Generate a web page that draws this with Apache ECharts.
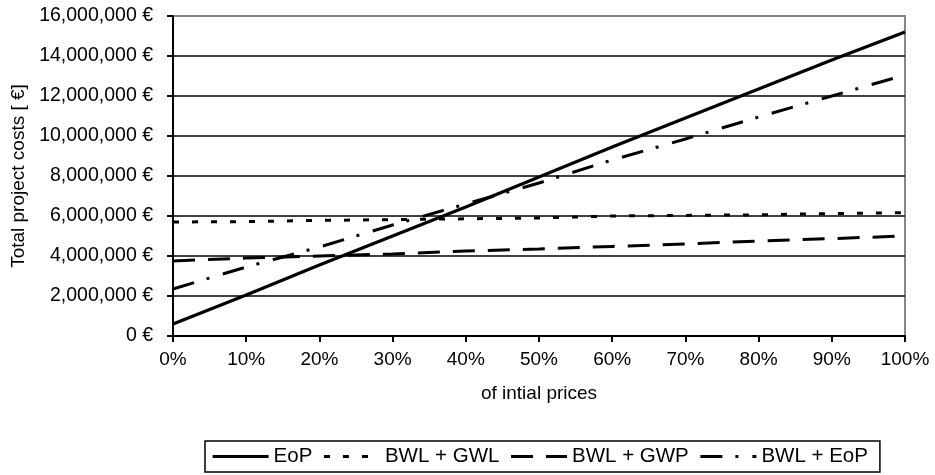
<!DOCTYPE html>
<html>
<head>
<meta charset="utf-8">
<script src="https://cdn.jsdelivr.net/npm/echarts@6/dist/echarts.min.js"></script>
<style>html,body{margin:0;padding:0;background:#fff}#c{width:935px;height:475px}</style>
</head>
<body>
<div id="c"></div>
<script>
var xPercent = [0, 10, 20, 30, 40, 50, 60, 70, 80, 90, 100];
var seriesNames = ['EoP', 'BWL + GWL', 'BWL + GWP', 'BWL + EoP'];
var eop  = [600000, 2050000, 3550000, 5000000, 6450000, 7950000, 9450000, 10900000, 12350000, 13800000, 15200000];
var gwl  = [5700000, 5720000, 5780000, 5820000, 5860000, 5900000, 6000000, 6030000, 6060000, 6120000, 6170000];
var gwp  = [3750000, 3900000, 4000000, 4100000, 4250000, 4350000, 4480000, 4600000, 4750000, 4870000, 5000000];
var beop = [2350000, 3450000, 4450000, 5550000, 6600000, 7650000, 8800000, 9850000, 10950000, 12000000, 13050000];
var yTicks = [0, 2000000, 4000000, 6000000, 8000000, 10000000, 12000000, 14000000, 16000000];

function pairs(v){ return xPercent.map(function(x,i){ return [x, v[i]]; }); }
var font = 'Liberation Sans, Arial, sans-serif';
var chart = echarts.init(document.getElementById('c'), null, {renderer:'canvas'});
var styles = [
  {type:'solid', width:3.2},
  {type:[6,13], width:3},
  {type:[22,13], width:3},
  {type:[22,13,3,14], width:3}
];
var data = [eop, gwl, gwp, beop];
chart.setOption({
  animation:false,
  backgroundColor:'#fff',
  grid:{left:173, right:30, top:16, bottom:139, show:true, borderColor:'#888', borderWidth:2, backgroundColor:'transparent'},
  xAxis:{
    type:'value', min:0, max:100, interval:10,
    name:'of intial prices', nameLocation:'middle', nameGap:48,
    nameTextStyle:{color:'#000', fontSize:19, fontFamily:font},
    axisLine:{show:true, lineStyle:{color:'#000', width:2}},
    axisTick:{show:true, inside:false, length:6, lineStyle:{color:'#000', width:2}},
    axisLabel:{color:'#000', fontSize:19, fontFamily:font, margin:14, formatter:'{value}%'},
    splitLine:{show:false}
  },
  yAxis:{
    type:'value', min:yTicks[0], max:yTicks[yTicks.length-1], interval:2000000,
    name:'Total project costs [ €]', nameLocation:'middle', nameGap:140, nameRotate:90,
    nameTextStyle:{color:'#000', fontSize:19, fontFamily:font},
    axisLine:{show:true, lineStyle:{color:'#000', width:2}},
    axisTick:{show:true, inside:false, length:6, lineStyle:{color:'#000', width:2}},
    axisLabel:{color:'#000', fontSize:19.5, fontFamily:font, margin:20,
      formatter:function(v){ return v.toLocaleString('en-US') + ' €'; }},
    splitLine:{show:true, showMaxLine:false, showMinLine:false, lineStyle:{color:'#000', width:1.5}}
  },
  legend:{
    left:205, top:441, orient:'horizontal',
    padding:[5,12,5,6], itemGap:10, itemWidth:56, itemHeight:16,
    borderColor:'#000', borderWidth:1.5, borderRadius:0,
    itemStyle:{opacity:0, borderWidth:0},
    lineStyle:{width:3.2, color:'#000'},
    textStyle:{color:'#000', fontSize:20.5, fontFamily:font},
    data:seriesNames
  },
  series:seriesNames.map(function(n,i){
    return {
      name:n, type:'line', data:pairs(data[i]), symbol:'none', showSymbol:false,
      lineStyle:{color:'#000', width:styles[i].width, type:styles[i].type, cap:'butt'},
      itemStyle:{color:'#000'}, z:10-i
    };
  })
});
</script>
</body>
</html>
